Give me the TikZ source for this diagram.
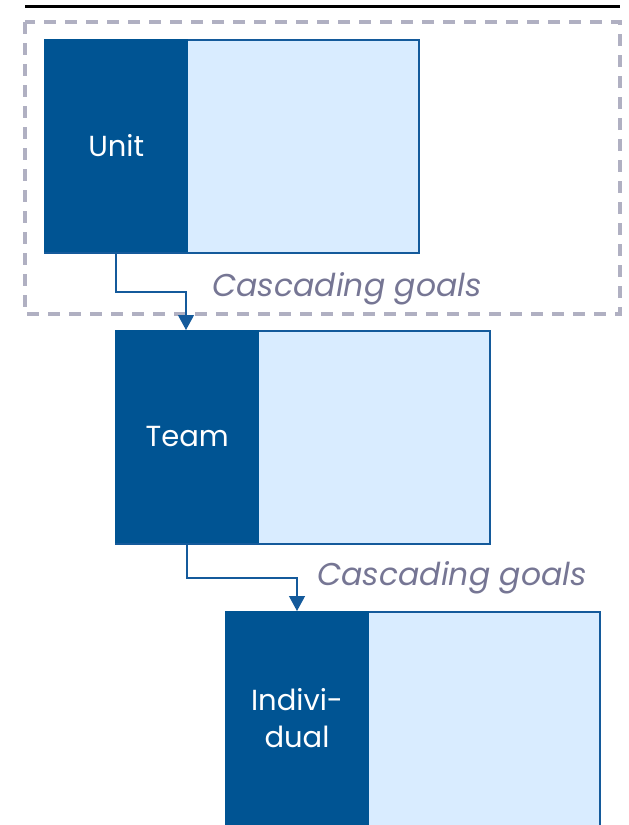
\documentclass[tikz,border=0pt]{standalone}
\usepackage{fontspec}
\setmainfont{Poppins}
\usetikzlibrary{arrows.meta}
\definecolor{darkblue}{RGB}{0,84,147}
\definecolor{lightblue}{RGB}{217,236,255}
\definecolor{edgeblue}{RGB}{20,90,155}
\definecolor{dashgray}{RGB}{176,176,194}
\definecolor{labelgray}{RGB}{118,118,148}
\tikzset{
  x=1pt, y=-1pt,
  levelbox/.style={draw=edgeblue, line width=2pt, fill=lightblue, minimum width=374pt, minimum height=213pt, anchor=north west, inner sep=0pt},
  tagbox/.style={fill=darkblue, text=white, minimum width=144pt, minimum height=213pt, anchor=north west, inner sep=0pt, align=center, font=\fontsize{29}{37}\selectfont},
  link/.style={draw=edgeblue, line width=1.2pt, -{Triangle[length=15pt,width=16pt]}},
  goal/.style={text=labelgray, font=\fontsize{31.5}{36}\selectfont\itshape}
}
\begin{document}
\begin{tikzpicture}
\useasboundingbox (0,0) rectangle (629,825);
\clip (0,0) rectangle (629,825);
% rule across the top
\draw[line width=3pt, black] (25,6) -- (620,6);
% dashed frame around the unit level
\draw[dashgray, line width=3.4pt, dash pattern=on 12pt off 9pt] (25,22) rectangle (620,314);
% three levels
\node[levelbox] (unitbox) at (44,39) {};
\node[tagbox] (unit) at (44,39) {Unit};
\node[levelbox, minimum height=240pt] (indbox) at (225,611) {};
\node[tagbox, minimum height=240pt] (ind) at (225,611) {};
\node[levelbox] (teambox) at (115,330) {};
\node[tagbox] (team) at (115,330) {Team};
\node[text=white, align=center, font=\fontsize{29}{37}\selectfont] (indtext) at (297,718) {Indivi-\\dual};
% cascading connectors
\coordinate (c1) at (116,292);
\coordinate (c2) at (186,292);
\draw[link] (unit.south west -| c1) -- (c1) -- (c2) -- (c2 |- team.north);
\coordinate (c3) at (187,578);
\coordinate (c4) at (297,578);
\draw[link] (team.south west -| c3) -- (c3) -- (c4) -- (c4 |- ind.north);
% labels
\node[goal] (g1) at (347,289) {Cascading goals};
\node[goal] (g2) at (452,578) {Cascading goals};
\end{tikzpicture}
\end{document}
